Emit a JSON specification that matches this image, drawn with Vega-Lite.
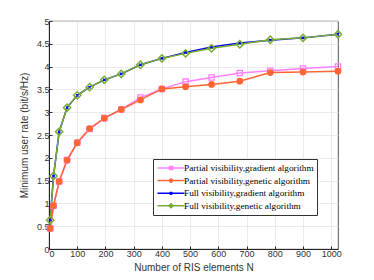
{
  "$schema": "https://vega.github.io/schema/vega-lite/v6.json",
  "width": 289,
  "height": 228,
  "padding": {"left": 49, "top": 21, "right": 36, "bottom": 31},
  "autosize": {"type": "none"},
  "background": "white",
  "config": {
    "view": {"stroke": "#262626", "strokeWidth": 0.8},
    "axis": {
      "labelFont": "Liberation Sans",
      "titleFont": "Liberation Sans",
      "labelFontSize": 9,
      "titleFontSize": 10,
      "labelColor": "#333333",
      "titleColor": "#333333",
      "titleFontWeight": "normal",
      "domainColor": "#262626",
      "tickColor": "#262626",
      "tickSize": -3,
      "gridColor": "#e6e6e6",
      "gridWidth": 0.8
    }
  },
  "data": {
    "values": [
      {"N": 4, "rate": 0.45, "series": "Partial visibility,gradient algorithm"},
      {"N": 16, "rate": 0.95, "series": "Partial visibility,gradient algorithm"},
      {"N": 36, "rate": 1.48, "series": "Partial visibility,gradient algorithm"},
      {"N": 64, "rate": 1.95, "series": "Partial visibility,gradient algorithm"},
      {"N": 100, "rate": 2.33, "series": "Partial visibility,gradient algorithm"},
      {"N": 144, "rate": 2.63, "series": "Partial visibility,gradient algorithm"},
      {"N": 196, "rate": 2.87, "series": "Partial visibility,gradient algorithm"},
      {"N": 256, "rate": 3.06, "series": "Partial visibility,gradient algorithm"},
      {"N": 324, "rate": 3.32, "series": "Partial visibility,gradient algorithm"},
      {"N": 400, "rate": 3.51, "series": "Partial visibility,gradient algorithm"},
      {"N": 484, "rate": 3.67, "series": "Partial visibility,gradient algorithm"},
      {"N": 576, "rate": 3.76, "series": "Partial visibility,gradient algorithm"},
      {"N": 676, "rate": 3.86, "series": "Partial visibility,gradient algorithm"},
      {"N": 784, "rate": 3.91, "series": "Partial visibility,gradient algorithm"},
      {"N": 900, "rate": 3.96, "series": "Partial visibility,gradient algorithm"},
      {"N": 1024, "rate": 4.0, "series": "Partial visibility,gradient algorithm"},
      {"N": 4, "rate": 0.45, "series": "Partial visibility,genetic algorithm"},
      {"N": 16, "rate": 0.95, "series": "Partial visibility,genetic algorithm"},
      {"N": 36, "rate": 1.48, "series": "Partial visibility,genetic algorithm"},
      {"N": 64, "rate": 1.95, "series": "Partial visibility,genetic algorithm"},
      {"N": 100, "rate": 2.33, "series": "Partial visibility,genetic algorithm"},
      {"N": 144, "rate": 2.64, "series": "Partial visibility,genetic algorithm"},
      {"N": 196, "rate": 2.87, "series": "Partial visibility,genetic algorithm"},
      {"N": 256, "rate": 3.06, "series": "Partial visibility,genetic algorithm"},
      {"N": 324, "rate": 3.27, "series": "Partial visibility,genetic algorithm"},
      {"N": 400, "rate": 3.51, "series": "Partial visibility,genetic algorithm"},
      {"N": 484, "rate": 3.56, "series": "Partial visibility,genetic algorithm"},
      {"N": 576, "rate": 3.61, "series": "Partial visibility,genetic algorithm"},
      {"N": 676, "rate": 3.68, "series": "Partial visibility,genetic algorithm"},
      {"N": 784, "rate": 3.87, "series": "Partial visibility,genetic algorithm"},
      {"N": 900, "rate": 3.88, "series": "Partial visibility,genetic algorithm"},
      {"N": 1024, "rate": 3.9, "series": "Partial visibility,genetic algorithm"},
      {"N": 4, "rate": 0.64, "series": "Full visibility,gradient algorithm"},
      {"N": 16, "rate": 1.6, "series": "Full visibility,gradient algorithm"},
      {"N": 36, "rate": 2.57, "series": "Full visibility,gradient algorithm"},
      {"N": 64, "rate": 3.1, "series": "Full visibility,gradient algorithm"},
      {"N": 100, "rate": 3.37, "series": "Full visibility,gradient algorithm"},
      {"N": 144, "rate": 3.55, "series": "Full visibility,gradient algorithm"},
      {"N": 196, "rate": 3.71, "series": "Full visibility,gradient algorithm"},
      {"N": 256, "rate": 3.84, "series": "Full visibility,gradient algorithm"},
      {"N": 324, "rate": 4.04, "series": "Full visibility,gradient algorithm"},
      {"N": 400, "rate": 4.18, "series": "Full visibility,gradient algorithm"},
      {"N": 484, "rate": 4.31, "series": "Full visibility,gradient algorithm"},
      {"N": 576, "rate": 4.43, "series": "Full visibility,gradient algorithm"},
      {"N": 676, "rate": 4.52, "series": "Full visibility,gradient algorithm"},
      {"N": 784, "rate": 4.58, "series": "Full visibility,gradient algorithm"},
      {"N": 900, "rate": 4.63, "series": "Full visibility,gradient algorithm"},
      {"N": 1024, "rate": 4.71, "series": "Full visibility,gradient algorithm"},
      {"N": 4, "rate": 0.63, "series": "Full visibility,genetic algorithm"},
      {"N": 16, "rate": 1.6, "series": "Full visibility,genetic algorithm"},
      {"N": 36, "rate": 2.57, "series": "Full visibility,genetic algorithm"},
      {"N": 64, "rate": 3.1, "series": "Full visibility,genetic algorithm"},
      {"N": 100, "rate": 3.37, "series": "Full visibility,genetic algorithm"},
      {"N": 144, "rate": 3.55, "series": "Full visibility,genetic algorithm"},
      {"N": 196, "rate": 3.71, "series": "Full visibility,genetic algorithm"},
      {"N": 256, "rate": 3.84, "series": "Full visibility,genetic algorithm"},
      {"N": 324, "rate": 4.04, "series": "Full visibility,genetic algorithm"},
      {"N": 400, "rate": 4.18, "series": "Full visibility,genetic algorithm"},
      {"N": 484, "rate": 4.29, "series": "Full visibility,genetic algorithm"},
      {"N": 576, "rate": 4.4, "series": "Full visibility,genetic algorithm"},
      {"N": 676, "rate": 4.49, "series": "Full visibility,genetic algorithm"},
      {"N": 784, "rate": 4.59, "series": "Full visibility,genetic algorithm"},
      {"N": 900, "rate": 4.63, "series": "Full visibility,genetic algorithm"},
      {"N": 1024, "rate": 4.71, "series": "Full visibility,genetic algorithm"}
    ]
  },
  "encoding": {
    "x": {
      "field": "N", "type": "quantitative",
      "scale": {"domain": [0, 1024], "nice": false},
      "axis": {"values": [0,100,200,300,400,500,600,700,800,900,1000], "format": "d", "title": "Number of RIS elements N", "titlePadding": 4, "labelPadding": 3}
    },
    "y": {
      "field": "rate", "type": "quantitative",
      "scale": {"domain": [0, 5], "nice": false},
      "axis": {"values": [0,0.5,1,1.5,2,2.5,3,3.5,4,4.5,5], "format": "~g", "title": "Minimum user rate (bit/s/Hz)", "titlePadding": 7, "labelPadding": 3}
    }
  },
  "layer": [
    {
      "mark": {"type": "line", "strokeWidth": 1.5},
      "encoding": {
        "color": {
          "field": "series", "type": "nominal",
          "scale": {
            "domain": ["Partial visibility,gradient algorithm", "Partial visibility,genetic algorithm", "Full visibility,gradient algorithm", "Full visibility,genetic algorithm"],
            "range": ["#FF80FF", "#FF6633", "#0000FF", "#77AC30"]
          },
          "legend": {
            "title": null,
            "orient": "none",
            "legendX": 104,
            "legendY": 138,
            "padding": 3,
            "strokeColor": "#333333",
            "fillColor": "white",
            "symbolSize": 100,
            "symbolOffset": 9,
            "symbolStrokeWidth": 1.5,
            "labelOffset": 7,
            "labelFont": "Liberation Serif",
            "labelFontSize": 9.25,
            "labelColor": "black",
            "labelLimit": 300,
            "rowPadding": 0.6,
            "encode": {
              "symbols": {
                "update": {
                  "shape": {"signal": "datum.value === 'Partial visibility,gradient algorithm' ? 'M-2.7,0H2.7M-0.3,-0.3H0.3V0.3H-0.3Z' : datum.value === 'Partial visibility,genetic algorithm' ? 'M-2.7,0H2.7M0.3,0A0.3,0.3 0 1,1 -0.3,0A0.3,0.3 0 1,1 0.3,0Z' : datum.value === 'Full visibility,gradient algorithm' ? 'M-2.7,0H2.7M-0.25,-0.25L0.25,0.25M-0.25,0.25L0.25,-0.25' : 'M-2.7,0H2.7M0,-0.38L0.38,0L0,0.38L-0.38,0Z'"},
                  "fill": {"signal": "datum.value === 'Partial visibility,genetic algorithm' ? '#FF6633' : 'transparent'"},
                  "opacity": {"value": 1}
                }
              }
            }
          }
        }
      }
    },
    {
      "transform": [{"filter": "datum.series === 'Partial visibility,gradient algorithm'"}],
      "mark": {"type": "point", "shape": "square", "size": 28, "stroke": "#FF80FF", "strokeWidth": 1.3, "fill": "transparent", "opacity": 1}
    },
    {
      "transform": [{"filter": "datum.series === 'Partial visibility,genetic algorithm'"}],
      "mark": {"type": "point", "shape": "circle", "size": 30, "stroke": "#FF6633", "strokeWidth": 1.3, "fill": "#FF6633", "filled": true, "opacity": 1}
    },
    {
      "transform": [{"filter": "datum.series === 'Full visibility,gradient algorithm'"}],
      "mark": {"type": "point", "shape": "M-1,-1L1,1M-1,1L1,-1", "size": 6, "stroke": "#0000FF", "strokeWidth": 1.2, "fill": "transparent", "opacity": 1}
    },
    {
      "transform": [{"filter": "datum.series === 'Full visibility,genetic algorithm'"}],
      "mark": {"type": "point", "shape": "diamond", "size": 55, "stroke": "#77AC30", "strokeWidth": 1.4, "fill": "transparent", "opacity": 1}
    }
  ]
}
